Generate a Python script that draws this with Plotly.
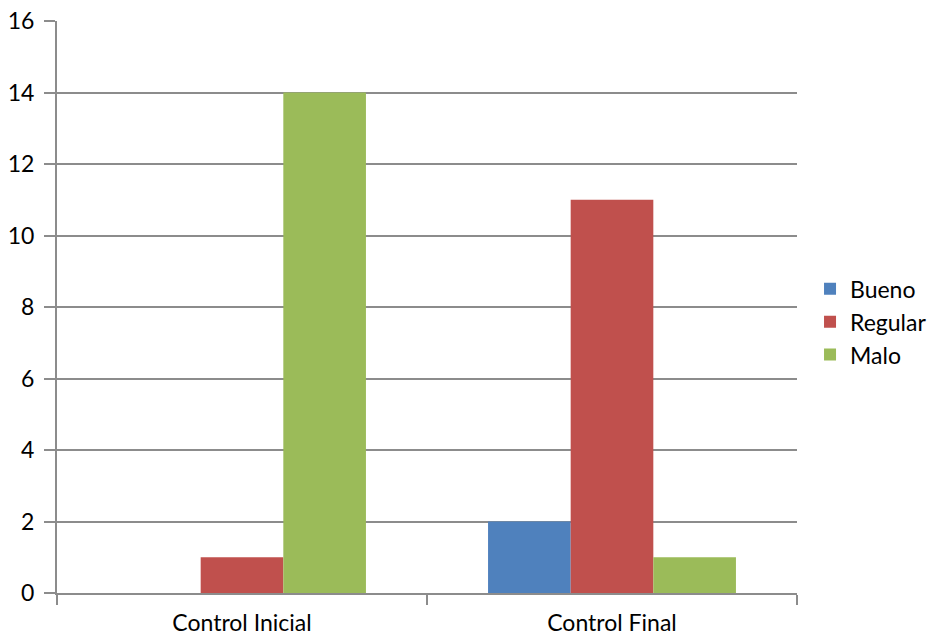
import plotly.graph_objects as go

categories = ["Control Inicial", "Control Final"]
bueno = [0, 2]
regular = [1, 11]
malo = [14, 1]

series_names = ["Bueno", "Regular", "Malo"]
series_colors = ["#4F81BD", "#C0504D", "#9BBB59"]

grid = "#8C8C8C"

fig = go.Figure()
for name, vals, color in zip(series_names, [bueno, regular, malo], series_colors):
    fig.add_trace(go.Bar(name=name, x=categories, y=vals, marker_color=color,
                         marker_line_width=0))

fig.update_layout(
    width=930, height=637,
    margin=dict(l=57, r=133, t=21, b=44, autoexpand=False),
    paper_bgcolor="white", plot_bgcolor="white",
    font=dict(family="Lato", size=23, color="#000000"),
    barmode="group", bargap=0.33, bargroupgap=0,
    legend=dict(xref="container", x=0.871, xanchor="left",
                y=0.474, yanchor="middle",
                font=dict(size=23), itemwidth=30, tracegroupgap=0),
    showlegend=True,
)
fig.update_xaxes(
    showline=True, linecolor=grid, linewidth=2, automargin=False,
    ticks="outside", tickson="boundaries", ticklen=10, tickwidth=2, tickcolor=grid,
    showgrid=False, ticklabelstandoff=8,
)
fig.update_yaxes(
    range=[0, 16], dtick=2, showline=True, linecolor=grid, linewidth=2,
    showgrid=True, gridcolor=grid, gridwidth=2, automargin=False,
    ticks="outside", ticklen=11, tickwidth=2, tickcolor=grid,
    ticklabelstandoff=5, zeroline=False,
)

fig.write_html("out.html")
